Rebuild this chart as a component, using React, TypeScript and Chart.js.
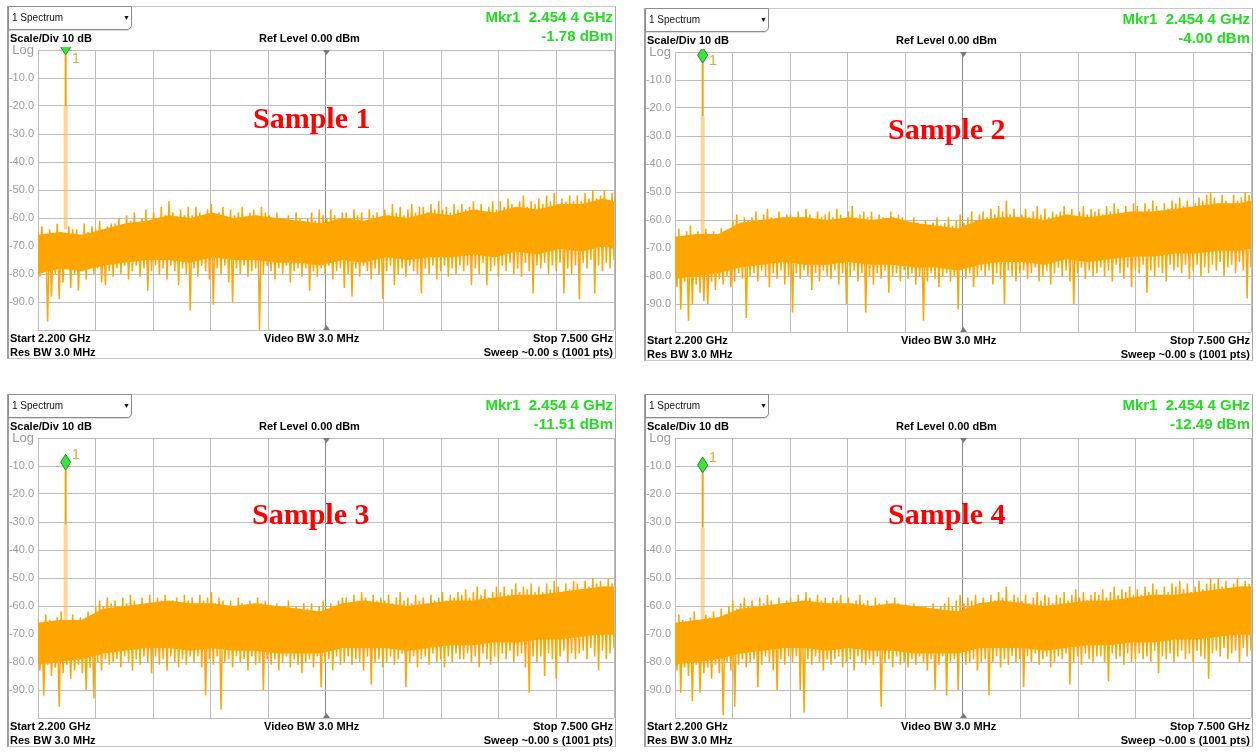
import React, { useEffect, useRef } from 'react';
import { Chart, registerables } from 'chart.js';

Chart.register(...registerables);

// ---------- axis / sweep settings ----------
const START_GHZ = 2.2;
const STOP_GHZ = 7.5;
const xGridTicks = [2.2, 2.73, 3.26, 3.79, 4.32, 4.85, 5.38, 5.91, 6.44, 6.97, 7.5];
const yGridTicks = [0, -10, -20, -30, -40, -50, -60, -70, -80, -90, -100];
const coreFreq = [
  2.2, 2.4, 2.6, 2.8, 3.0, 3.2, 3.4, 3.6, 3.8, 4.0, 4.2, 4.4, 4.6, 4.8,
  5.0, 5.2, 5.4, 5.6, 5.8, 6.0, 6.2, 6.4, 6.6, 6.8, 7.0, 7.2, 7.4, 7.5,
];

// ---------- marker ----------
const markerFreq = 2.4544;
const markerFreqLabel = '2.454 4 GHz';
const markerLevels = [-1.78, -4.0, -11.51, -12.49];
const markerShoulders = [-20, -23, -31, -32];
const markerBases = [-64, -66, -65, -65];
const sampleTitles = ['Sample 1', 'Sample 2', 'Sample 3', 'Sample 4'];

// ---------- Sample 1 trace (local peaks / dips) ----------
const hiTrace1 = [
  -65, -63, -66, -64, -67, -62, -65, -66, -63, -64,
  -64, -66, -62, -65, -63, -64, -61, -65, -63, -62,
  -62, -60, -63, -59, -61, -58, -62, -60, -57, -61,
  -58, -60, -56, -59, -54, -58, -60, -57, -59, -56,
  -59, -56, -58, -60, -57, -55, -59, -58, -56, -60,
  -57, -59, -58, -56, -60, -58, -57, -59, -56, -58,
  -59, -61, -58, -60, -62, -59, -61, -58, -60, -61,
  -60, -58, -61, -57, -59, -60, -57, -59, -61, -58,
  -58, -60, -57, -59, -58, -61, -57, -59, -58, -60,
  -57, -59, -55, -58, -56, -59, -57, -55, -58, -56,
  -56, -58, -55, -57, -54, -57, -56, -58, -55, -57,
  -55, -57, -56, -54, -57, -55, -58, -56, -54, -57,
  -54, -56, -53, -55, -57, -54, -52, -56, -54, -55,
  -53, -55, -52, -54, -51, -55, -53, -54, -52, -54,
  -52, -54, -51, -53, -50, -53, -52, -50, -54, -51,
];
const loTrace1 = [
  -81, -79, -97, -88, -80, -89, -83, -78, -85, -80,
  -86, -79, -82, -77, -80, -78, -83, -84, -79, -81,
  -78, -80, -77, -82, -79, -77, -81, -78, -86, -79,
  -77, -80, -78, -82, -77, -79, -84, -78, -80, -93,
  -78, -81, -77, -79, -82, -91, -78, -80, -77, -83,
  -90, -78, -80, -77, -81, -79, -78, -100, -80, -77,
  -79, -82, -78, -80, -77, -83, -79, -78, -81, -78,
  -86, -79, -81, -78, -80, -77, -82, -79, -78, -85,
  -80, -88, -78, -81, -77, -79, -82, -78, -80, -89,
  -79, -77, -84, -80, -78, -81, -77, -79, -80, -87,
  -78, -80, -77, -82, -79, -77, -81, -78, -80, -77,
  -79, -77, -84, -78, -80, -76, -84, -79, -77, -81,
  -77, -79, -76, -80, -78, -81, -76, -79, -87, -77,
  -78, -76, -80, -77, -79, -76, -87, -78, -80, -77,
  -89, -76, -78, -75, -87, -77, -79, -76, -78, -75,
];
const coreTop1 = [-66, -65, -66, -64, -62, -61, -59, -60, -58, -60, -59, -60, -61, -62, -60, -61, -59, -60, -58, -59, -57, -58, -56, -57, -55, -55, -53, -54];
const coreBot1 = [-80, -78, -79, -77, -76, -75, -75, -76, -74, -75, -75, -76, -76, -77, -75, -76, -74, -75, -74, -74, -73, -74, -72, -73, -71, -72, -70, -71];

// ---------- Sample 2 ----------
const hiTrace2 = [
  -65, -63, -66, -64, -62, -66, -64, -65, -63, -66,
  -64, -65, -63, -66, -64, -60, -58, -61, -59, -60,
  -59, -57, -60, -58, -56, -59, -61, -57, -59, -58,
  -58, -60, -57, -59, -56, -58, -60, -57, -59, -58,
  -57, -59, -56, -58, -60, -57, -55, -59, -58, -57,
  -59, -57, -60, -58, -59, -61, -57, -60, -58, -59,
  -60, -62, -59, -61, -63, -60, -62, -61, -59, -62,
  -61, -59, -62, -60, -58, -61, -59, -57, -60, -58,
  -57, -59, -56, -58, -55, -57, -53, -58, -56, -59,
  -58, -56, -59, -57, -55, -58, -56, -59, -57, -58,
  -57, -55, -58, -56, -59, -57, -55, -58, -56, -57,
  -56, -58, -55, -57, -54, -56, -58, -55, -57, -54,
  -55, -57, -54, -56, -53, -55, -57, -54, -56, -53,
  -54, -52, -55, -53, -56, -54, -52, -53, -51, -50,
  -52, -54, -51, -53, -55, -51, -53, -52, -50, -51,
];
const loTrace2 = [
  -84, -92, -82, -96, -90, -83, -86, -89, -90, -82,
  -85, -81, -83, -80, -84, -82, -79, -81, -95, -80,
  -79, -82, -78, -80, -84, -79, -81, -78, -83, -80,
  -93, -79, -81, -78, -80, -85, -79, -82, -78, -80,
  -81, -78, -83, -79, -90, -80, -78, -82, -79, -93,
  -80, -83, -79, -81, -78, -86, -80, -79, -82, -78,
  -81, -79, -83, -80, -96, -82, -79, -81, -84, -80,
  -79, -82, -80, -92, -78, -81, -79, -84, -80, -78,
  -80, -78, -83, -79, -81, -90, -78, -80, -82, -79,
  -78, -81, -79, -77, -82, -80, -78, -83, -79, -77,
  -80, -78, -82, -90, -79, -77, -81, -78, -80, -79,
  -77, -80, -78, -82, -76, -79, -81, -77, -84, -78,
  -79, -76, -86, -78, -80, -77, -79, -82, -76, -78,
  -77, -79, -76, -81, -78, -76, -80, -77, -79, -76,
  -78, -75, -80, -77, -76, -79, -75, -78, -88, -77,
];
const coreTop2 = [-66, -65, -65, -61, -60, -59, -59, -60, -59, -60, -59, -61, -62, -63, -60, -59, -59, -60, -58, -59, -58, -57, -57, -56, -55, -54, -54, -53];
const coreBot2 = [-81, -80, -79, -77, -76, -75, -76, -76, -75, -76, -76, -77, -77, -78, -76, -75, -75, -76, -74, -75, -74, -73, -73, -72, -72, -71, -71, -70];

// ---------- Sample 3 ----------
const hiTrace3 = [
  -64, -66, -63, -65, -67, -64, -62, -66, -65, -63,
  -65, -64, -66, -62, -64, -60, -58, -60, -57, -59,
  -58, -60, -57, -59, -56, -58, -60, -57, -59, -56,
  -59, -57, -58, -56, -60, -58, -57, -59, -56, -58,
  -57, -59, -56, -58, -57, -55, -59, -57, -58, -60,
  -58, -60, -57, -59, -61, -58, -60, -57, -59, -58,
  -60, -61, -59, -62, -60, -58, -61, -60, -62, -59,
  -61, -59, -62, -60, -58, -61, -59, -60, -58, -57,
  -57, -59, -56, -58, -55, -57, -59, -56, -58, -57,
  -58, -56, -59, -57, -55, -58, -57, -59, -56, -58,
  -57, -59, -56, -58, -57, -55, -58, -56, -57, -55,
  -56, -54, -57, -55, -53, -56, -54, -57, -55, -53,
  -55, -53, -56, -54, -52, -55, -53, -54, -52, -55,
  -53, -55, -52, -54, -51, -53, -55, -52, -54, -51,
  -52, -54, -51, -53, -50, -52, -51, -53, -50, -52,
];
const loTrace3 = [
  -83, -92, -81, -85, -82, -96, -84, -81, -86, -83,
  -81, -84, -90, -82, -93, -80, -83, -79, -81, -80,
  -79, -82, -78, -80, -83, -79, -81, -78, -80, -84,
  -78, -81, -79, -83, -78, -80, -82, -79, -81, -78,
  -80, -78, -82, -92, -79, -81, -78, -97, -80, -79,
  -82, -78, -80, -79, -83, -78, -81, -80, -90, -79,
  -81, -79, -83, -80, -78, -82, -79, -81, -84, -80,
  -79, -82, -78, -89, -80, -79, -83, -78, -81, -80,
  -78, -81, -79, -80, -83, -78, -88, -80, -79, -82,
  -80, -78, -81, -79, -77, -89, -80, -78, -82, -79,
  -78, -81, -77, -80, -79, -82, -78, -80, -77, -79,
  -79, -77, -80, -78, -82, -77, -79, -81, -78, -80,
  -77, -79, -76, -80, -78, -77, -82, -91, -78, -80,
  -78, -85, -77, -79, -86, -78, -76, -80, -77, -79,
  -77, -76, -79, -75, -78, -83, -76, -79, -77, -75,
];
const coreTop3 = [-66, -65, -65, -61, -60, -59, -58, -59, -59, -60, -59, -60, -61, -62, -59, -58, -59, -60, -59, -58, -58, -57, -56, -56, -55, -54, -53, -53];
const coreBot3 = [-81, -80, -79, -77, -76, -75, -75, -76, -75, -76, -76, -77, -77, -77, -75, -75, -75, -76, -75, -74, -74, -73, -73, -72, -72, -71, -70, -70];

// ---------- Sample 4 ----------
const hiTrace4 = [
  -66, -63, -65, -67, -64, -62, -65, -66, -63, -64,
  -62, -64, -61, -63, -60, -58, -61, -59, -57, -60,
  -58, -60, -57, -59, -56, -58, -60, -57, -59, -58,
  -57, -59, -56, -58, -55, -57, -59, -56, -58, -57,
  -59, -57, -58, -56, -60, -57, -59, -58, -56, -59,
  -58, -60, -57, -59, -61, -58, -60, -57, -59, -61,
  -60, -62, -59, -61, -63, -60, -62, -59, -61, -60,
  -59, -57, -60, -58, -56, -59, -57, -58, -56, -59,
  -57, -59, -56, -58, -55, -57, -53, -58, -56, -57,
  -58, -56, -59, -57, -55, -58, -56, -57, -59, -56,
  -57, -55, -58, -56, -54, -57, -55, -58, -56, -55,
  -56, -54, -57, -55, -53, -56, -54, -55, -53, -56,
  -54, -56, -53, -55, -52, -54, -56, -53, -55, -52,
  -53, -51, -54, -52, -55, -53, -51, -54, -52, -50,
  -52, -50, -53, -51, -54, -52, -50, -53, -51, -52,
];
const loTrace4 = [
  -83, -91, -82, -85, -94, -81, -91, -84, -82, -86,
  -81, -84, -99, -80, -83, -96, -81, -79, -82, -80,
  -79, -89, -81, -78, -80, -83, -90, -79, -81, -78,
  -80, -78, -90, -98, -79, -81, -78, -80, -83, -79,
  -81, -79, -78, -82, -80, -79, -83, -78, -80, -81,
  -79, -81, -78, -96, -80, -79, -82, -78, -81, -80,
  -82, -79, -81, -78, -80, -83, -79, -90, -81, -78,
  -92, -80, -79, -90, -78, -81, -80, -79, -83, -80,
  -79, -92, -80, -78, -82, -79, -81, -78, -80, -79,
  -89, -78, -80, -77, -81, -79, -78, -82, -80, -78,
  -79, -77, -88, -80, -78, -81, -77, -79, -80, -78,
  -78, -80, -87, -77, -79, -78, -81, -77, -80, -79,
  -77, -79, -78, -80, -76, -84, -78, -79, -77, -80,
  -78, -76, -79, -77, -80, -76, -78, -79, -86, -77,
  -76, -78, -75, -79, -77, -76, -80, -75, -78, -76,
];
const coreTop4 = [-66, -65, -64, -61, -60, -59, -58, -59, -59, -60, -59, -60, -61, -62, -59, -58, -59, -60, -59, -58, -58, -57, -56, -56, -55, -54, -53, -53];
const coreBot4 = [-81, -80, -79, -77, -76, -75, -75, -76, -75, -76, -76, -77, -77, -77, -75, -75, -75, -76, -75, -74, -74, -73, -73, -72, -72, -71, -70, -70];

// ---------- styling ----------
const ORANGE = '#ffa500';
const GREEN = '#22dd22';
const SANS = "'Liberation Sans', Arial, sans-serif";
const SERIF = "'Liberation Serif', 'Times New Roman', serif";

type PanelDef = {
  plotLeft: number;
  plotTop: number;
  hi: number[];
  lo: number[];
  coreTop: number[];
  coreBot: number[];
  titleDx: number;
  titleDy: number;
};

const panels: PanelDef[] = [
  { plotLeft: 38, plotTop: 50, hi: hiTrace1, lo: loTrace1, coreTop: coreTop1, coreBot: coreBot1, titleDx: 215, titleDy: 67 },
  { plotLeft: 675, plotTop: 52, hi: hiTrace2, lo: loTrace2, coreTop: coreTop2, coreBot: coreBot2, titleDx: 213, titleDy: 76 },
  { plotLeft: 38, plotTop: 438, hi: hiTrace3, lo: loTrace3, coreTop: coreTop3, coreBot: coreBot3, titleDx: 214, titleDy: 75 },
  { plotLeft: 675, plotTop: 438, hi: hiTrace4, lo: loTrace4, coreTop: coreTop4, coreBot: coreBot4, titleDx: 213, titleDy: 75 },
];

function Txt(props: { x: number; cy: number; text: string; size: number; bold?: boolean; color?: string; align?: 'left' | 'right'; family?: string }) {
  const lh = Math.round(props.size * 1.3);
  const style: React.CSSProperties = {
    position: 'absolute',
    top: props.cy - lh / 2,
    lineHeight: lh + 'px',
    height: lh,
    fontSize: props.size,
    fontFamily: props.family || SANS,
    fontWeight: props.bold ? 'bold' : 'normal',
    color: props.color || '#000',
    whiteSpace: 'pre',
  };
  if (props.align === 'right') {
    style.left = props.x - 400;
    style.width = 400;
    style.textAlign = 'right';
  } else {
    style.left = props.x;
  }
  return <div style={style}>{props.text}</div>;
}

function Panel({ def, idx }: { def: PanelDef; idx: number }) {
  const ref = useRef<HTMLCanvasElement>(null);
  const L = def.plotLeft;
  const T = def.plotTop;
  const level = markerLevels[idx];

  useEffect(() => {
    if (!ref.current) return;
    const n = def.hi.length;
    const step = (STOP_GHZ - START_GHZ) / (2 * n - 1);
    const trace: { x: number; y: number }[] = [];
    for (let i = 0; i < n; i++) {
      trace.push({ x: START_GHZ + 2 * i * step, y: def.hi[i] });
      trace.push({ x: START_GHZ + (2 * i + 1) * step, y: def.lo[i] });
    }
    const markerPlugin = {
      id: 'mkr' + idx,
      afterDatasetsDraw(chart: any) {
        const { ctx, chartArea, scales } = chart;
        const cx = Math.round(scales.x.getPixelForValue(xGridTicks[5])) + 0.5;
        ctx.save();
        ctx.fillStyle = '#7a7a7a';
        ctx.beginPath();
        ctx.moveTo(cx - 3.5, chartArea.top);
        ctx.lineTo(cx + 3.5, chartArea.top);
        ctx.lineTo(cx, chartArea.top + 5);
        ctx.closePath();
        ctx.fill();
        ctx.beginPath();
        ctx.moveTo(cx - 3.5, chartArea.bottom);
        ctx.lineTo(cx + 3.5, chartArea.bottom);
        ctx.lineTo(cx, chartArea.bottom - 5);
        ctx.closePath();
        ctx.fill();
        ctx.restore();

        const px = scales.x.getPixelForValue(markerFreq);
        const py = scales.y.getPixelForValue(markerLevels[idx]);
        const dcy = py - 8;
        ctx.save();
        ctx.beginPath();
        ctx.rect(0, chartArea.top - 3, chart.width, chart.height);
        ctx.clip();
        ctx.beginPath();
        ctx.moveTo(px, py);
        ctx.lineTo(px + 5, dcy);
        ctx.lineTo(px, py - 16);
        ctx.lineTo(px - 5, dcy);
        ctx.closePath();
        ctx.fillStyle = '#3ee23e';
        ctx.fill();
        ctx.strokeStyle = '#1f8f1f';
        ctx.lineWidth = 1;
        ctx.stroke();
        ctx.restore();
        ctx.save();
        ctx.fillStyle = '#f2a33a';
        ctx.font = '15px ' + SANS;
        ctx.textBaseline = 'middle';
        ctx.textAlign = 'left';
        ctx.fillText('1', px + 6, Math.max(dcy - 7, chartArea.top + 9));
        ctx.restore();
      },
    };

    const gridColor = '#bdbdbd';
    const chart = new Chart(ref.current, {
      type: 'line',
      data: {
        datasets: [
          {
            data: coreFreq.map((f, i) => ({ x: f, y: def.coreBot[i] })),
            borderColor: 'rgba(0,0,0,0)',
            borderWidth: 0,
            pointRadius: 0,
            fill: false,
          },
          {
            data: coreFreq.map((f, i) => ({ x: f, y: def.coreTop[i] })),
            borderColor: 'rgba(0,0,0,0)',
            borderWidth: 0,
            pointRadius: 0,
            fill: '-1',
            backgroundColor: ORANGE,
          },
          {
            data: trace,
            borderColor: ORANGE,
            borderWidth: 1.5,
            pointRadius: 0,
            fill: false,
            tension: 0,
          },
          {
            data: [
              { x: markerFreq, y: markerBases[idx] },
              { x: markerFreq, y: markerShoulders[idx] },
            ],
            borderColor: 'rgba(255,185,80,0.6)',
            borderWidth: 4,
            pointRadius: 0,
            fill: false,
          },
          {
            data: [
              { x: markerFreq, y: markerShoulders[idx] },
              { x: markerFreq, y: level },
            ],
            borderColor: '#f7a000',
            borderWidth: 2,
            pointRadius: 0,
            fill: false,
          },
        ],
      } as any,
      options: {
        animation: false,
        responsive: false,
        maintainAspectRatio: false,
        events: [],
        layout: { padding: { left: 0, top: 44, right: 4, bottom: 28 } },
        plugins: { legend: { display: false }, tooltip: { enabled: false } },
        scales: {
          x: {
            type: 'linear',
            min: START_GHZ,
            max: STOP_GHZ,
            afterBuildTicks: (s: any) => {
              s.ticks = xGridTicks.map((v) => ({ value: v }));
            },
            afterFit: (s: any) => {
              s.height = 0;
            },
            ticks: { display: false },
            grid: {
              color: (c: any) => (c.index === 5 ? '#8c8c8c' : gridColor),
              drawTicks: false,
              lineWidth: 1,
            },
            border: { display: false },
          },
          y: {
            type: 'linear',
            min: -100,
            max: 0,
            afterBuildTicks: (s: any) => {
              s.ticks = yGridTicks.map((v) => ({ value: v }));
            },
            afterFit: (s: any) => {
              s.width = 30;
            },
            ticks: {
              callback: (v: any) => (v === 0 ? 'Log' : v === -100 ? '' : Number(v).toFixed(1)),
              color: '#9b9b9b',
              padding: 4,
              font: (c: any) => ({ family: SANS, size: c.tick && c.tick.value === 0 ? 13 : 11 }),
            },
            grid: { color: gridColor, drawTicks: false, lineWidth: 1 },
            border: { display: false },
          },
        },
      } as any,
      plugins: [markerPlugin],
    });
    return () => chart.destroy();
  }, []);

  return (
    <>
      <div
        style={{
          position: 'absolute',
          left: L - 31,
          top: T - 44,
          width: 609,
          height: 353,
          boxSizing: 'border-box',
          borderLeft: '2px solid #a0a0a0',
          borderTop: '1px solid #c8c8c8',
          borderRight: '1px solid #a8a8a8',
          borderBottom: '1px solid #c8c8c8',
        }}
      />
      <canvas
        ref={ref}
        width={610}
        height={352}
        style={{ position: 'absolute', left: L - 30, top: T - 44, width: 610, height: 352 }}
      />
      <div
        style={{
          position: 'absolute',
          left: L - 30,
          top: T - 44,
          width: 124,
          height: 24,
          boxSizing: 'border-box',
          border: '1px solid #8c8c8c',
          borderBottomRightRadius: 5,
          background: '#fff',
          boxShadow: '0 1px 1px rgba(0,0,0,0.15)',
        }}
      >
        <div style={{ position: 'absolute', left: 3, top: 4, fontFamily: SANS, fontSize: 10, lineHeight: '14px', color: '#111' }}>
          1 Spectrum
        </div>
        <div style={{ position: 'absolute', left: 114, top: 5, fontFamily: SANS, fontSize: 7, lineHeight: '12px', color: '#111' }}>
          ▼
        </div>
      </div>
      <Txt x={L - 28} cy={T - 12.5} text="Scale/Div 10 dB" size={11} bold />
      <Txt x={L + 221} cy={T - 12.5} text="Ref Level 0.00 dBm" size={11} bold />
      <Txt x={L + 575} cy={T - 33} text={'Mkr1  ' + markerFreqLabel} size={15} bold color={GREEN} align="right" />
      <Txt x={L + 575} cy={T - 14} text={level.toFixed(2) + ' dBm'} size={15} bold color={GREEN} align="right" />
      <Txt x={L - 28} cy={T + 288} text={'Start ' + START_GHZ.toFixed(3) + ' GHz'} size={11} bold />
      <Txt x={L - 28} cy={T + 302} text="Res BW 3.0 MHz" size={11} bold />
      <Txt x={L + 226} cy={T + 288} text="Video BW 3.0 MHz" size={11} bold />
      <Txt x={L + 575} cy={T + 288} text={'Stop ' + STOP_GHZ.toFixed(3) + ' GHz'} size={11} bold align="right" />
      <Txt x={L + 575} cy={T + 302} text="Sweep ~0.00 s (1001 pts)" size={11} bold align="right" />
      <Txt x={L + def.titleDx} cy={T + def.titleDy} text={sampleTitles[idx]} size={30} bold color="#ff0000" family={SERIF} />
    </>
  );
}

export default function App() {
  return (
    <div style={{ position: 'absolute', left: 0, top: 0, width: 1256, height: 752, background: '#fff', overflow: 'hidden' }}>
      {panels.map((p, i) => (
        <Panel key={i} def={p} idx={i} />
      ))}
    </div>
  );
}
